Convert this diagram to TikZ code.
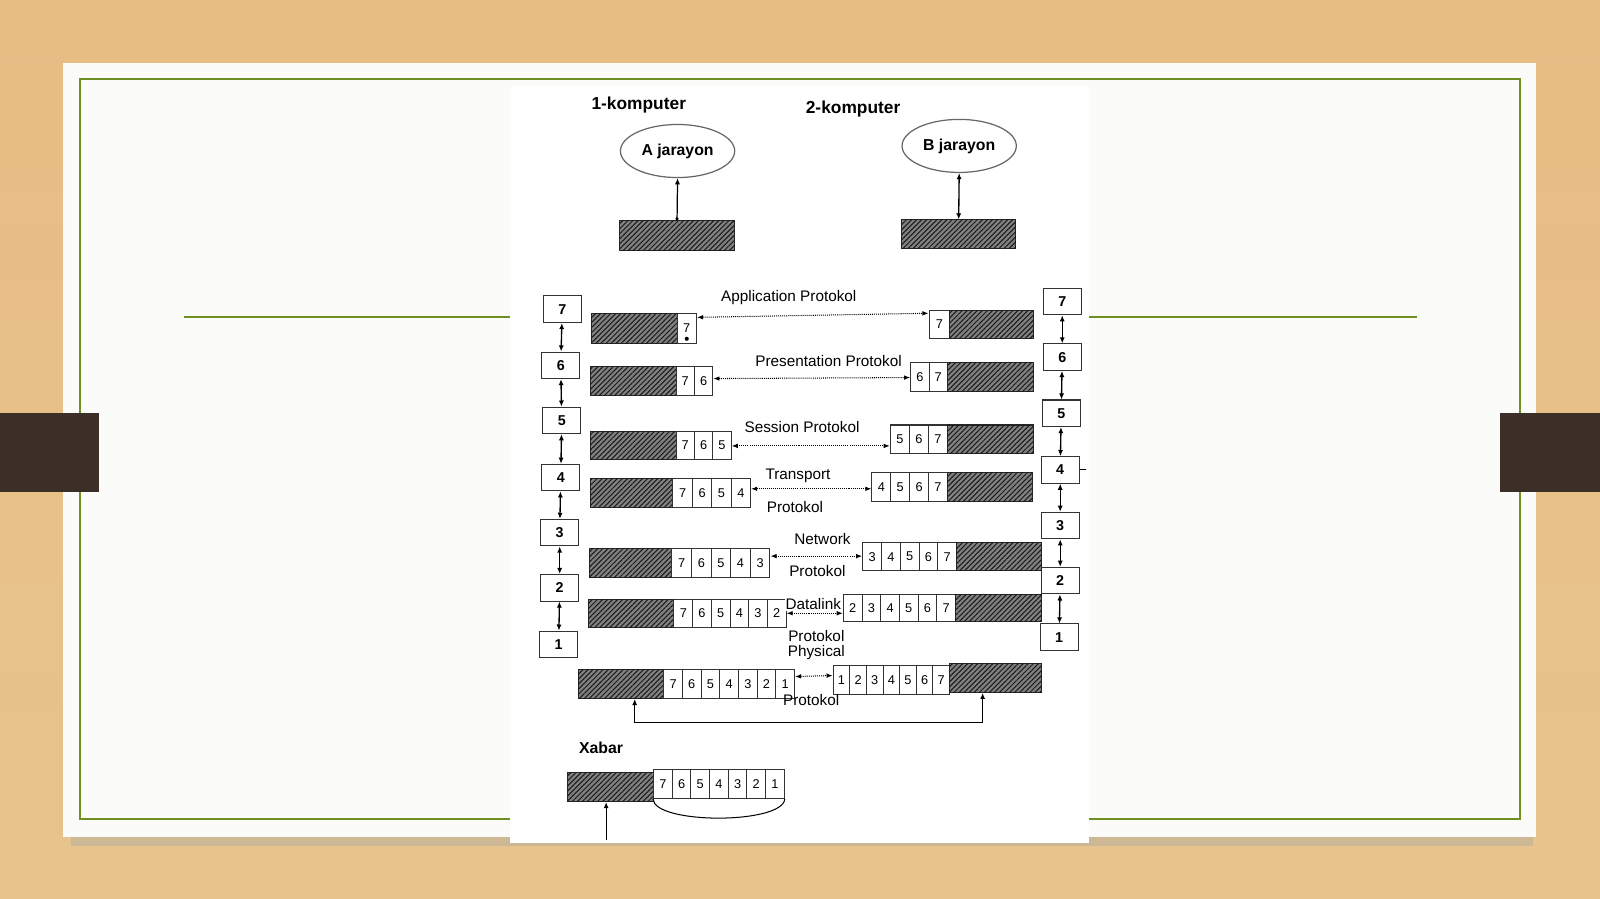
\documentclass[tikz,border=0pt]{standalone}
\usepackage{fontspec}
\setmainfont{Liberation Sans}
\usetikzlibrary{patterns.meta,arrows.meta,shapes.geometric,positioning}
\definecolor{wood}{HTML}{E6C48C}
\definecolor{woodtop}{HTML}{E8BD84}
\definecolor{slide}{HTML}{FBFBFA}
\definecolor{frame}{HTML}{6F8F22}
\definecolor{tab}{HTML}{3B2F27}
\tikzset{every path/.style={line width=1pt},
  hatch/.style={draw=black!85, fill=black!50, postaction={pattern={Lines[angle=45,distance=3.5pt,line width=1pt]}, pattern color=black!90},
    minimum height=28pt, inner sep=0pt, anchor=north west},
  cell/.style={draw=black!80, fill=white, minimum height=28pt, minimum width=18.5pt, inner sep=0pt,
    anchor=north west, font=\fontsize{12.5}{12.5}\selectfont},
  layer/.style={draw=black!80, fill=white, minimum width=37pt, minimum height=26pt, inner sep=0pt,
    font=\fontsize{14}{14}\selectfont\bfseries},
  proc/.style={ellipse, draw=black!60, line width=1.2pt, minimum width=112pt, minimum height=52pt,
    font=\fontsize{15.5}{15.5}\selectfont\bfseries},
  proto/.style={densely dotted, {Latex[length=6pt,width=4.5pt]}-{Latex[length=6pt,width=4.5pt]}},
  updown/.style={line width=1.3pt, {Latex[length=6pt,width=5pt]}-{Latex[length=6pt,width=5pt]}},
  up/.style={line width=1.2pt, -{Latex[length=6pt,width=5pt]}},
  tag/.style={font=\fontsize{15}{15}\selectfont},
  head/.style={font=\fontsize{17}{17}\selectfont\bfseries}}

\begin{document}
\begin{tikzpicture}[x=1pt,y=-1pt]
  \useasboundingbox (0,0) rectangle (1568,881);
  % slide
  \fill[top color=woodtop, bottom color=wood] (0,0) rectangle (1568,881);
  \fill[black!35, opacity=0.4] (70,816) rectangle (1502,829);
  \fill[slide] (62,62) rectangle (1505,820);
  \draw[frame, line width=2pt] (78,77) rectangle (1490,803);
  \draw[frame, line width=2pt] (180,311) -- (1389,311);
  \fill[tab] (0,405) rectangle (97,482);
  \fill[tab] (1470,405) rectangle (1568,482);
  \fill[white] (500,85) rectangle (1067,826);

  % processes
  \node[head] (k1) at (626,103) {1-komputer};
  \node[head] (k2) at (836,107) {2-komputer};
  \node[proc] (A) at (664,148) {A jarayon};
  \node[proc] (B) at (940,143) {B jarayon};
  \node[hatch, minimum width=112pt, minimum height=29pt] (Ah) at (607,216) {};
  \node[hatch, minimum width=112pt, minimum height=28pt] (Bh) at (883,215) {};
  \draw[line width=1.2pt, {Circle[length=3pt]}-{Latex[length=6pt,width=5pt]}] (Ah.north) -- (A.south);
  \draw[updown] (Bh.north) -- (B.south);

  % layer stacks
  \node[layer] (SL7) at (551,303) {7};
  \node[layer] (SL6) at (549.5,358) {6};
  \node[layer] (SL5) at (550.5,412) {5};
  \node[layer] (SL4) at (549.5,468) {4};
  \node[layer] (SL3) at (548.5,522) {3};
  \node[layer] (SL2) at (548.5,576) {2};
  \node[layer] (SL1) at (547.5,631.5) {1};
  \node[layer] (SR7) at (1041,295.5) {7};
  \node[layer] (SR6) at (1041,350) {6};
  \node[layer] (SR5) at (1040,405) {5};
  \node[layer] (SR4) at (1039,460.5) {4};
  \node[layer] (SR3) at (1039,515) {3};
  \node[layer] (SR2) at (1039,569) {2};
  \node[layer] (SR1) at (1038,624.5) {1};
  \foreach \a/\b in {7/6,6/5,5/4,4/3,3/2,2/1} {
    \draw[updown] (SL\a) -- (SL\b);
    \draw[updown] (SR\a) -- (SR\b);
  }
  \draw (SR4.east) -- ++(6,0);

  % application
  \node[hatch, minimum width=84pt, minimum height=29pt] (L7h) at (579,307) {};
  \node[cell, minimum width=19pt, minimum height=29pt] (L7c7) at (663,307) {7};
  \fill ([yshift=5pt]L7c7.south) circle (2pt);
  \node[cell, minimum width=20pt, minimum height=27pt] (R7c7) at (910,304) {7};
  \node[hatch, minimum width=82pt, minimum height=27pt] (R7h) at (930,304) {};
  \draw[proto] ([yshift=-4pt]L7c7.north east) -- ([yshift=-3pt]R7c7.north west);
  \node[tag] (t7) at (773,292) {Application Protokol};

  % presentation
  \node[hatch, minimum width=84pt] (L6h) at (578,359) {};
  \foreach \d [count=\i from 0] in {7,6}
    \node[cell, minimum width=18pt] (L6c\d) at ({662+18*\i},359) {\d};
  \foreach \d [count=\i from 0] in {6,7}
    \node[cell, minimum width=18pt] (R6c\d) at ({892+18*\i},355) {\d};
  \node[hatch, minimum width=84pt] (R6h) at (928,355) {};
  \draw[proto] ([yshift=-12pt]L6c6.north east) -- ([yshift=-15pt]R6c6.north west);
  \node[tag] (t6) at (812,354) {Presentation Protokol};

  % session
  \node[hatch, minimum width=84pt] (L5h) at (578,422) {};
  \foreach \d [count=\i from 0] in {7,6,5}
    \node[cell, minimum width=18pt] (L5c\d) at ({662+18*\i},422) {\d};
  \foreach \d [count=\i from 0] in {5,6,7}
    \node[cell, minimum width=18.7pt] (R5c\d) at ({872+18.7*\i},416) {\d};
  \node[hatch, minimum width=84pt] (R5h) at (928,416) {};
  \draw[proto] ([yshift=-15pt]L5c5.north east) -- ([yshift=-21pt]R5c5.north west);
  \node[tag] (t5) at (786,418) {Session Protokol};

  % transport
  \node[hatch, minimum width=81pt, minimum height=29pt] (L4h) at (578,468) {};
  \foreach \d [count=\i from 0] in {7,6,5,4}
    \node[cell, minimum width=19pt, minimum height=29pt] (L4c\d) at ({659+19*\i},468) {\d};
  \foreach \d [count=\i from 0] in {4,5,6,7}
    \node[cell, minimum width=18.5pt] (R4c\d) at ({854+18.5*\i},463) {\d};
  \node[hatch, minimum width=83pt] (R4h) at (928,463) {};
  \draw[proto] ([yshift=-11pt]L4c4.north east) -- ([yshift=-16pt]R4c4.north west);
  \node[tag] (t4) at (782,466) {Transport};
  \node[tag] (t4b) at (779,497) {Protokol};

  % network
  \node[hatch, minimum width=81pt] (L3h) at (577,537) {};
  \foreach \d [count=\i from 0] in {7,6,5,4,3}
    \node[cell, minimum width=19.2pt] (L3c\d) at ({658+19.2*\i},537) {\d};
  \foreach \d [count=\i from 0] in {3,4,5,6,7}
    \node[cell, minimum width=18.4pt] (R3c\d) at ({845+18.4*\i},531) {\d};
  \node[hatch, minimum width=83pt] (R3h) at (937,531) {};
  \draw[proto] ([yshift=-8pt]L3c3.north east) -- ([yshift=-14pt]R3c3.north west);
  \node[tag] (t3) at (806,528) {Network};
  \node[tag] (t3b) at (801,560) {Protokol};

  % datalink
  \node[hatch, minimum width=84pt, minimum height=27pt] (L2h) at (576,587) {};
  \foreach \d [count=\i from 0] in {7,6,5,4,3,2}
    \node[cell, minimum width=18.3pt, minimum height=27pt] (L2c\d) at ({660+18.3*\i},587) {\d};
  \foreach \d [count=\i from 0] in {2,3,4,5,6,7}
    \node[cell, minimum width=18.3pt, minimum height=27pt] (R2c\d) at ({826+18.3*\i},582) {\d};
  \node[hatch, minimum width=84pt, minimum height=27pt] (R2h) at (936,582) {};
  \draw[proto] ([yshift=-14pt]L2c2.north east) -- ([yshift=-19pt]R2c2.north west);
  \node[tag, fill=white, inner sep=1pt] (t2) at (797,592) {Datalink};
  \node[tag] (t2b) at (800,623) {Protokol};

  % physical
  \node[tag] (t1) at (800,639) {Physical};
  \node[hatch, minimum width=84pt] (L1h) at (566,656) {};
  \foreach \d [count=\i from 0] in {7,6,5,4,3,2,1}
    \node[cell, minimum width=18.3pt] (L1c\d) at ({650+18.3*\i},656) {\d};
  \foreach \d [count=\i from 0] in {1,2,3,4,5,6,7}
    \node[cell, minimum width=16.3pt] (R1c\d) at ({816+16.3*\i},652) {\d};
  \node[hatch, minimum width=90pt] (R1h) at (930,650) {};
  \draw[proto] ([yshift=-7pt]L1c1.north east) -- ([yshift=-10pt]R1c1.north west);
  \node[tag] (t1b) at (795,686) {Protokol};
  \coordinate (wireL) at (622,708);
  \coordinate (wireR) at (963,708);
  \draw[line width=1.2pt, {Latex[length=6pt,width=5pt]}-{Latex[length=6pt,width=5pt]}]
    (L1h.south -| wireL) -- (wireL) -- (wireR) -- (R1h.south -| wireR);

  % message
  \node[head, font=\fontsize{15.5}{15.5}\selectfont\bfseries] (xabar) at (589,733) {Xabar};
  \node[hatch, minimum width=84pt] (Xh) at (556,757) {};
  \foreach \d [count=\i from 0] in {7,6,5,4,3,2,1}
    \node[cell, minimum width=18.3pt] (Xc\d) at ({640+18.3*\i},754) {\d};
  \draw (Xc7.south west) .. controls (641,808) and (767,808) .. (Xc1.south east);
  \coordinate (xin) at (594,823);
  \draw[up] (xin) -- (Xh.south -| xin);
\end{tikzpicture}
\end{document}
